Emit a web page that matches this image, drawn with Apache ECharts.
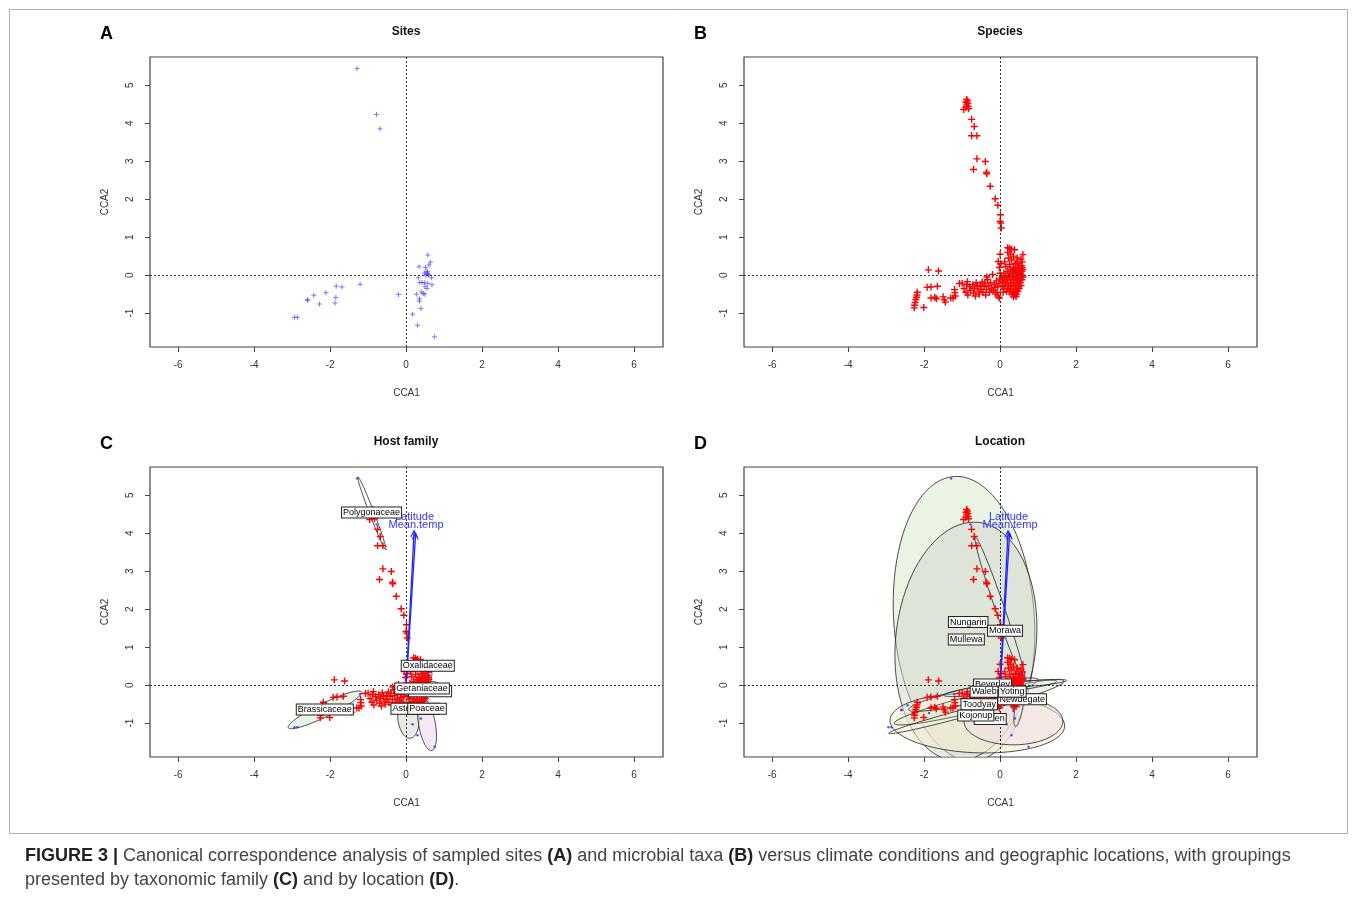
<!DOCTYPE html>
<html><head><meta charset="utf-8">
<script src="https://cdn.jsdelivr.net/npm/echarts@6/dist/echarts.min.js"></script>
<style>html,body{margin:0;padding:0;background:#fff}#c{width:1357px;height:897px}</style>
</head><body><div id="c"></div>
<script>
const xTicks=[-6,-4,-2,0,2,4,6];
const yTicks=[-1,0,1,2,3,4,5];
const panelTitles=['Sites','Species','Host family','Location'];
const panelLetters=['A','B','C','D'];

// CCA site scores [CCA1, CCA2]
const sites=[[-1.29,5.44],[-0.78,4.23],[-0.69,3.85],[-1.21,-0.24],[-1.84,-0.29],[-1.69,-0.31],[-2.11,-0.46],[-2.43,-0.53],[-2.59,-0.65],[-2.6,-0.66],[-2.28,-0.76],[-1.85,-0.59],[-1.87,-0.73],[-2.94,-1.11],[-2.86,-1.11],[-0.2,-0.51],[0.17,-1.03],[0.3,-1.32],[0.75,-1.62],[0.39,-0.88],[0.35,-0.68],[0.35,-0.62],[0.27,-0.5],[0.57,0.53],[0.64,0.34],[0.6,0.27],[0.34,0.22],[0.51,0.2],[0.55,0.1],[0.48,0.06],[0.55,0.04],[0.58,0.02],[0.6,0.0],[0.56,0.08],[0.52,0.0],[0.32,-0.07],[0.67,-0.07],[0.36,-0.19],[0.42,-0.19],[0.48,-0.2],[0.57,-0.22],[0.68,-0.25],[0.5,-0.3],[0.55,-0.35],[0.4,-0.44],[0.45,-0.48],[0.49,-0.5]];

// CCA species scores [CCA1, CCA2]
const species=[
[-0.88,4.62],[-0.86,4.58],[-0.9,4.55],[-0.85,4.52],[-0.88,4.48],[-0.84,4.44],[-0.96,4.36],[-0.83,4.38],[-0.9,4.42],
[-0.75,4.1],[-0.68,3.91],[-0.75,3.67],[-0.61,3.67],[-0.61,3.06],[-0.39,2.99],[-0.7,2.78],[-0.36,2.71],[-0.35,2.67],[-0.26,2.34],[-0.13,2.01],[-0.06,1.84],[0.01,1.59],[0.0,1.41],[0.02,1.37],[0.03,1.24],
[-1.89,0.14],[-1.62,0.11],[-1.92,-0.32],[-1.82,-0.31],[-1.65,-0.29],[-2.18,-0.45],[-2.19,-0.52],[-2.2,-0.58],[-2.22,-0.64],[-2.24,-0.72],[-2.25,-0.79],[-2.26,-0.86],[-2.01,-0.85],[-1.82,-0.6],[-1.72,-0.58],[-1.68,-0.62],[-1.5,-0.57],[-1.47,-0.65],[-1.44,-0.71],[-1.3,-0.6],[-1.24,-0.6],[-1.2,-0.38],[-1.19,-0.46],[-1.18,-0.55],[-1.07,-0.22],[-1.0,-0.21],[-0.86,-0.17],
[-0.95,-0.35],[-0.9,-0.45],[-0.85,-0.52],[-0.8,-0.3],[-0.78,-0.4],[-0.72,-0.25],[-0.7,-0.47],[-0.68,-0.35],[-0.63,-0.2],[-0.6,-0.3],[-0.58,-0.42],[-0.55,-0.5],[-0.52,-0.27],[-0.5,-0.37],[-0.47,-0.18],[-0.45,-0.45],[-0.42,-0.3],[-0.4,-0.22],[-0.38,-0.52],[-0.36,-0.38],[-0.33,-0.12],[-0.3,-0.28],[-0.28,-0.45],[-0.25,-0.2],[-0.23,-0.35],[-0.2,0.02],[-0.18,-0.4],[-0.15,-0.25],[-0.13,-0.32],[-0.1,-0.15],[-0.08,-0.45],[-0.06,-0.3],[-0.05,-0.55],[-0.03,-0.22],[-0.02,-0.6],[-0.01,-0.1],[-0.12,-0.5],[-0.65,-0.55],[-0.88,-0.25],[-0.35,-0.05],
[0.0,0.05],[-0.02,0.2],[-0.05,0.36],[0.0,0.55],[0.02,0.3],[0.05,-0.05],
[0.2,0.72],[0.25,0.7],[0.3,0.68],[0.38,0.67],[0.2,0.6],[0.27,0.55],[0.6,0.54],[0.35,0.5],[0.45,0.45],[0.22,0.45],[0.3,0.4],[0.55,0.42],[0.58,0.35],[0.12,0.35],[0.4,0.3],[0.5,0.3],[0.25,0.28],[0.56,0.25],[0.15,0.22],[0.35,0.2],[0.45,0.18],[0.58,0.2],[0.28,0.15],[0.52,0.12],[0.2,0.1],[0.4,0.08],[0.57,0.1],[0.1,0.05],[0.32,0.03],[0.48,0.02],[0.58,0.0],[0.15,-0.02],[0.25,-0.05],[0.38,-0.05],[0.45,-0.08],[0.55,-0.06],[0.12,-0.1],[0.2,-0.12],[0.3,-0.12],[0.42,-0.15],[0.5,-0.14],[0.57,-0.12],[0.1,-0.18],[0.18,-0.2],[0.27,-0.2],[0.35,-0.22],[0.45,-0.22],[0.53,-0.2],[0.14,-0.27],[0.22,-0.28],[0.3,-0.3],[0.4,-0.28],[0.48,-0.3],[0.55,-0.27],[0.1,-0.35],[0.2,-0.36],[0.28,-0.38],[0.36,-0.36],[0.44,-0.38],[0.5,-0.35],[0.17,-0.43],[0.25,-0.44],[0.33,-0.45],[0.4,-0.45],[0.47,-0.42],[0.3,-0.5],[0.38,-0.52],[0.44,-0.5],[0.42,-0.56],[0.35,-0.57],[0.08,-0.45],[0.05,-0.3],[0.07,-0.15],[0.33,0.1],[0.43,0.05],[0.5,0.2],[0.44,0.35],[0.36,-0.1],[0.26,0.05],[0.6,0.15],[0.6,-0.05],[0.47,-0.05],[0.39,0.14],[0.23,-0.03],[0.53,0.05]
];

// environmental vectors: name, tipX, tipY, labelX, labelY
const envArrows=[['Latitude',0.21,4.06,0.22,4.42],['Mean.temp',0.25,4.0,0.26,4.21]];

// group ellipses: centreX, centreY, semi-major, semi-minor, angle(deg), fill index
const familyEllipses=[
 [-0.9,4.52,1.03,0.06,111,0],
 [-2.14,-0.65,1.07,0.18,26,1],
 [0.06,-0.85,0.55,0.28,95,2],
 [0.55,-1.03,0.7,0.22,100,3],
 [0.55,0.22,0.3,0.12,80,0],
 [0.5,-0.02,0.35,0.1,10,0],
 [0.55,-0.12,0.3,0.08,0,0]
];
const familyLabels=[['Fabaceae',0.63,-0.16],['Geraniaceae',0.42,-0.09],['Oxalidaceae',0.57,0.51],['Asteraceae',0.24,-0.62],['Poaceae',0.55,-0.62],['Brassicaceae',-2.14,-0.64],['Polygonaceae',-0.91,4.54]];

const locationEllipses=[
 [-0.95,1.75,3.75,1.85,94,4],
 [-0.9,1.15,3.15,1.85,84,2],
 [-0.6,-1.0,2.3,0.78,-2,5],
 [0.35,-0.95,1.3,0.62,0,6],
 [-0.55,-0.45,2.3,0.22,14,1],
 [-0.7,-0.25,1.75,0.2,13,0],
 [0.0,-0.08,1.5,0.12,7,0],
 [-1.0,-0.75,2.0,0.1,15,0],
 [0.9,0.05,0.85,0.07,5,0],
 [0.5,-0.55,0.55,0.1,80,0],
 [0.0,2.0,2.0,0.12,109,0]
];
const locationLabels=[['Beverley',-0.2,0.02],['Walebing',-0.26,-0.17],['Newdegate',0.58,-0.37],['Yoting',0.32,-0.17],['Borden',-0.26,-0.89],['Kojonup',-0.64,-0.8],['Toodyay',-0.55,-0.5],['Nungarin',-0.84,1.66],['Mullewa',-0.89,1.2],['Morawa',0.13,1.43]];

const fills=['rgba(255,255,255,0.15)','rgba(220,236,212,0.6)','rgba(212,214,206,0.5)','rgba(236,218,236,0.6)','rgba(218,234,208,0.55)','rgba(244,236,208,0.55)','rgba(240,222,228,0.55)'];

const grids=[{left:150,top:57},{left:744,top:57},{left:150,top:467},{left:744,top:467}];
const plus='path://M4,0H6V4H10V6H6V10H4V6H0V4H4Z';

const chart=echarts.init(document.getElementById('c'),null,{renderer:'canvas'});
const gridOpt=grids.map(g=>({left:g.left,top:g.top,width:513,height:290,show:true,borderColor:'#444',borderWidth:1.2,backgroundColor:'transparent'}));
const xAxes=grids.map((g,i)=>({gridIndex:i,type:'value',min:-6.74,max:6.76,name:'CCA1',nameLocation:'middle',nameGap:41,
  nameTextStyle:{fontSize:10,color:'#333',fontFamily:'Liberation Sans'},splitLine:{show:false},axisLine:{show:false,onZero:false},
  axisTick:{show:true,length:5,customValues:xTicks,lineStyle:{color:'#444'}},
  axisLabel:{customValues:xTicks,fontSize:10,color:'#333',margin:13,fontFamily:'Liberation Sans'}}));
const yAxes=grids.map((g,i)=>({gridIndex:i,type:'value',min:-1.89,max:5.74,name:'CCA2',nameLocation:'middle',nameGap:40,
  nameTextStyle:{fontSize:10,color:'#333',fontFamily:'Liberation Sans'},splitLine:{show:false},axisLine:{show:false,onZero:false},
  axisTick:{show:true,length:5,customValues:yTicks,lineStyle:{color:'#444'}},
  axisLabel:{customValues:yTicks,fontSize:10,color:'#333',rotate:90,margin:15,fontFamily:'Liberation Sans'}}));

function zeroLines(){return {silent:true,symbol:'none',label:{show:false},animation:false,
  lineStyle:{type:[2,2],color:'#333',width:1},data:[{xAxis:0},{yAxis:0}]};}

function ellipseSeries(gi,list){
  return {type:'custom',xAxisIndex:gi,yAxisIndex:gi,z:1,clip:true,silent:true,data:list.map(e=>e.slice()),encode:{x:0,y:1},
    renderItem:(p,api)=>{
      const e=list[p.dataIndex];const cx=e[0],cy=e[1],a=e[2],b=e[3],phi=e[4]*Math.PI/180;
      const pts=[];
      for(let k=0;k<=90;k++){const t=k/90*2*Math.PI;
        const x=cx+a*Math.cos(t)*Math.cos(phi)-b*Math.sin(t)*Math.sin(phi);
        const y=cy+a*Math.cos(t)*Math.sin(phi)+b*Math.sin(t)*Math.cos(phi);
        pts.push(api.coord([x,y]));}
      return {type:'polygon',shape:{points:pts},style:{fill:fills[e[5]],stroke:'#222',lineWidth:0.8}};
    }};
}
function labelSeries(gi,list){
  return {type:'custom',xAxisIndex:gi,yAxisIndex:gi,z:8,silent:true,clip:false,data:list.map(l=>[l[1],l[2]]),encode:{x:0,y:1},
    renderItem:(p,api)=>{const pt=api.coord([api.value(0),api.value(1)]);
      return {type:'text',x:pt[0],y:pt[1],style:{text:list[p.dataIndex][0],fontSize:9,fontFamily:'Liberation Sans',fill:'#000',align:'center',verticalAlign:'middle',
        backgroundColor:'#fff',borderColor:'#222',borderWidth:1,padding:[1,1,0,1]}};}};
}
function arrowSeries(gi){
  return {type:'custom',xAxisIndex:gi,yAxisIndex:gi,z:5,silent:true,data:envArrows.map(a=>[a[1],a[2]]),encode:{x:0,y:1},
    renderItem:(p,api)=>{const o=api.coord([0,0]);const t=api.coord([api.value(0),api.value(1)]);
      const ang=Math.atan2(t[1]-o[1],t[0]-o[0]);const L=7,w=0.45;
      const h1=[t[0]-L*Math.cos(ang-w),t[1]-L*Math.sin(ang-w)],h2=[t[0]-L*Math.cos(ang+w),t[1]-L*Math.sin(ang+w)];
      const st={stroke:'#2222ff',lineWidth:1.3};
      return {type:'group',children:[
        {type:'line',shape:{x1:o[0],y1:o[1],x2:t[0],y2:t[1]},style:st},
        {type:'polyline',shape:{points:[h1,t,h2]},style:{stroke:'#2222ff',lineWidth:1.1,fill:null}}]};}};
}
function arrowLabelSeries(gi){
  return {type:'custom',xAxisIndex:gi,yAxisIndex:gi,z:6,silent:true,data:envArrows.map(a=>[a[3],a[4]]),encode:{x:0,y:1},
    renderItem:(p,api)=>{const pt=api.coord([api.value(0),api.value(1)]);
      return {type:'text',x:pt[0],y:pt[1],style:{text:envArrows[p.dataIndex][0],fontSize:11,fontFamily:'Liberation Sans',fill:'#3333ff',align:'center',verticalAlign:'middle'}};}};
}
function speciesSeries(gi,withZero){
  const s={type:'scatter',xAxisIndex:gi,yAxisIndex:gi,z:4,data:species,symbol:plus,symbolSize:7,itemStyle:{color:'#ff0000',opacity:1},silent:true};
  if(withZero)s.markLine=zeroLines();
  return s;
}
function siteDotSeries(gi){
  return {type:'scatter',xAxisIndex:gi,yAxisIndex:gi,z:3,data:sites,symbol:'circle',symbolSize:2.5,itemStyle:{color:'#2a2aff'},silent:true};
}

const series=[
  {type:'scatter',xAxisIndex:0,yAxisIndex:0,z:4,data:sites,symbol:plus,symbolSize:5,itemStyle:{color:'rgba(50,50,255,0.8)'},silent:true,markLine:zeroLines()},
  speciesSeries(1,true),
  ellipseSeries(2,familyEllipses),siteDotSeries(2),speciesSeries(2,true),arrowSeries(2),arrowLabelSeries(2),labelSeries(2,familyLabels),
  ellipseSeries(3,locationEllipses),siteDotSeries(3),speciesSeries(3,true),arrowSeries(3),arrowLabelSeries(3),labelSeries(3,locationLabels)
];

const graphics=[
  {type:'rect',shape:{x:9.5,y:9.5,width:1338,height:824},style:{fill:null,stroke:'#b0b0b0',lineWidth:1},z:-1,silent:true}
];
grids.forEach((g,i)=>{
  graphics.push({type:'text',x:g.left+256,y:g.top-25,style:{text:panelTitles[i],font:'bold 12px "Liberation Sans"',fill:'#111',align:'center',verticalAlign:'middle'},silent:true});
  graphics.push({type:'text',x:g.left-50,y:g.top-23,style:{text:panelLetters[i],font:'bold 18px "Liberation Sans"',fill:'#000',align:'left',verticalAlign:'middle'},silent:true});
});
graphics.push({type:'text',x:25,y:856,style:{text:'{b|FIGURE 3 |} Canonical correspondence analysis of sampled sites {b|(A)} and microbial taxa {b|(B)} versus climate conditions and geographic locations, with groupings',
  font:'18px "Liberation Sans"',fill:'#444',verticalAlign:'middle',rich:{b:{fontWeight:'bold',fontSize:18,fontFamily:'Liberation Sans',fill:'#222'}}},silent:true});
graphics.push({type:'text',x:25,y:880,style:{text:'presented by taxonomic family {b|(C)} and by location {b|(D)}.',
  font:'18px "Liberation Sans"',fill:'#444',verticalAlign:'middle',rich:{b:{fontWeight:'bold',fontSize:18,fontFamily:'Liberation Sans',fill:'#222'}}},silent:true});

chart.setOption({animation:false,backgroundColor:'#fff',grid:gridOpt,xAxis:xAxes,yAxis:yAxes,series:series,graphic:graphics});
</script></body></html>
